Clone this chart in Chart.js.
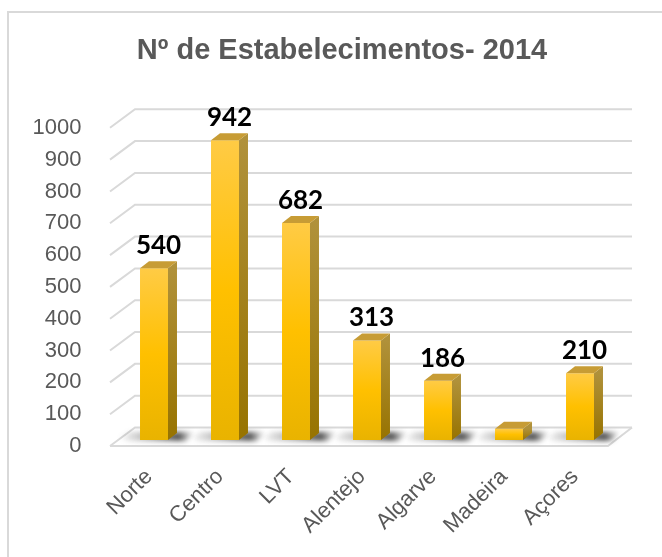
<!DOCTYPE html>
<html>
<head>
<meta charset="utf-8">
<script src="https://cdn.jsdelivr.net/npm/chart.js@4.4.1/dist/chart.umd.min.js"></script>
<style>
  html, body { margin: 0; padding: 0; background: #fff; }
  #wrap { width: 662px; height: 557px; }
</style>
</head>
<body>
<div id="wrap"><canvas id="myChart" width="662" height="557"></canvas></div>
<script>
"use strict";

// data
const regions = ['Norte', 'Centro', 'LVT', 'Alentejo', 'Algarve', 'Madeira', 'Açores'];
const establishments = [540, 942, 682, 313, 186, 35, 210];
const valueLabels = ['540', '942', '682', '313', '186', '', '210'];
const yMin = 0;
const yMax = 1000;
const yStep = 100;

const GRID = '#D9D9D9';
const TEXT = '#595959';
const DX = 9, DY = -7;   // bar depth

function barGradient(context) {
  const chart = context.chart;
  if (!chart.chartArea || context.type !== 'data') return '#FFC000';
  const y = chart.scales.y;
  const top = y.getPixelForValue(context.parsed.y);
  const bottom = y.getPixelForValue(0);
  const g = chart.ctx.createLinearGradient(0, top, 0, bottom);
  g.addColorStop(0, '#FFCB45');
  g.addColorStop(0.5, '#FFC000');
  g.addColorStop(1, '#E9B300');
  return g;
}

const threeD = {
  id: 'threeD',
  beforeDatasetsDraw(chart) {
    const { ctx, chartArea, scales } = chart;
    const left = chartArea.left, right = chartArea.right;
    ctx.save();
    // outer frame
    ctx.strokeStyle = GRID;
    ctx.lineWidth = 2;
    ctx.strokeRect(8, 12, 700, 600);

    // back wall + side wall grid lines
    for (let v = yMin; v <= yMax; v += yStep) {
      const y = scales.y.getPixelForValue(v);
      ctx.beginPath();
      ctx.moveTo(left - 8.5, y + 6);
      ctx.lineTo(left + 16.5, y - 12.5);
      ctx.lineTo(right + 16.5, y - 12.5);
      ctx.stroke();
    }
    // floor front edge
    const y0 = scales.y.getPixelForValue(0);
    ctx.beginPath();
    ctx.moveTo(left - 8.5, y0 + 6);
    ctx.lineTo(right - 7.5, y0 + 6);
    ctx.lineTo(right + 16.5, y0 - 12.5);
    ctx.stroke();

    // bar shadows on the floor
    const meta = chart.getDatasetMeta(0);
    ctx.filter = 'blur(2.5px)';
    meta.data.forEach(bar => {
      const { x, base, width } = bar.getProps(['x', 'base', 'width'], true);
      const l = x - width / 2, r = x + width / 2;
      const g = ctx.createLinearGradient(l - 22, 0, r + 26, 0);
      g.addColorStop(0, 'rgba(60,60,60,0)');
      g.addColorStop(0.45, 'rgba(60,60,60,0.45)');
      g.addColorStop(0.8, 'rgba(40,40,40,0.8)');
      g.addColorStop(1, 'rgba(60,60,60,0)');
      ctx.fillStyle = g;
      ctx.beginPath();
      ctx.moveTo(l - 22, base - 2);
      ctx.lineTo(l - 10, base - 8);
      ctx.lineTo(r + 26, base - 8);
      ctx.lineTo(r + 18, base + 1);
      ctx.lineTo(l - 12, base + 1);
      ctx.closePath();
      ctx.fill();
    });
    ctx.restore();
  },
  afterDatasetsDraw(chart) {
    const { ctx } = chart;
    const meta = chart.getDatasetMeta(0);
    ctx.save();
    meta.data.forEach((bar, i) => {
      const { x, y, base, width } = bar.getProps(['x', 'y', 'base', 'width'], true);
      const l = x - width / 2, r = x + width / 2;
      // side face
      const gs = ctx.createLinearGradient(0, y, 0, base);
      gs.addColorStop(0, '#B0913A');
      gs.addColorStop(1, '#977300');
      ctx.fillStyle = gs;
      ctx.beginPath();
      ctx.moveTo(r, y);
      ctx.lineTo(r + DX, y + DY);
      ctx.lineTo(r + DX, base + DY);
      ctx.lineTo(r, base);
      ctx.closePath();
      ctx.fill();
      // top face
      ctx.fillStyle = '#C79C35';
      ctx.beginPath();
      ctx.moveTo(l, y);
      ctx.lineTo(l + DX, y + DY);
      ctx.lineTo(r + DX, y + DY);
      ctx.lineTo(r, y);
      ctx.closePath();
      ctx.fill();
      // value label
      if (valueLabels[i]) {
        ctx.fillStyle = '#000';
        ctx.font = 'bold 26px Lato, "Open Sans", sans-serif';
        ctx.textAlign = 'center';
        ctx.textBaseline = 'alphabetic';
        ctx.fillText(valueLabels[i], x + DX / 2, y - 14);
      }
    });
    ctx.restore();
  }
};

const ctx = document.querySelector('#myChart').getContext('2d');
const axisFont = { family: '"Liberation Sans", Arial, sans-serif', size: 22 };

const config = {
  type: 'bar',
  data: {
    labels: regions,
    datasets: [{
      data: establishments,
      backgroundColor: barGradient,
      borderWidth: 0,
      barPercentage: 0.394,
      categoryPercentage: 1
    }]
  },
  options: {
    responsive: false,
    animation: false,
    layout: { padding: { left: 22, right: 0, top: 0, bottom: 0 } },
    plugins: {
      legend: { display: false },
      tooltip: { enabled: false },
      title: {
        display: true,
        text: 'Nº de Estabelecimentos- 2014',
        color: TEXT,
        font: { family: '"Liberation Sans", Arial, sans-serif', size: 29, weight: 'bold' },
        padding: { top: 34, bottom: 53 }
      }
    },
    scales: {
      x: {
        grid: { display: false },
        border: { display: false },
        afterFit: scale => { scale.height = 117; },
        ticks: {
          autoSkip: false,
          maxRotation: 45,
          minRotation: 45,
          padding: 16,
          labelOffset: -5,
          color: TEXT,
          font: axisFont
        }
      },
      y: {
        min: yMin,
        max: yMax,
        grid: { display: false },
        border: { display: false },
        afterFit: scale => { scale.width = 96.5; },
        ticks: {
          stepSize: yStep,
          padding: 29,
          labelOffset: 6,
          color: TEXT,
          font: axisFont,
          callback: value => String(value)
        }
      },
      // empty right-hand space, keeps the title centred like the original
      yRight: {
        position: 'right',
        grid: { display: false },
        border: { display: false },
        ticks: { display: false },
        afterFit: scale => { scale.width = 46.5; }
      }
    }
  },
  plugins: [threeD]
};

const myChart = new Chart(ctx, config);
</script>
</body>
</html>
